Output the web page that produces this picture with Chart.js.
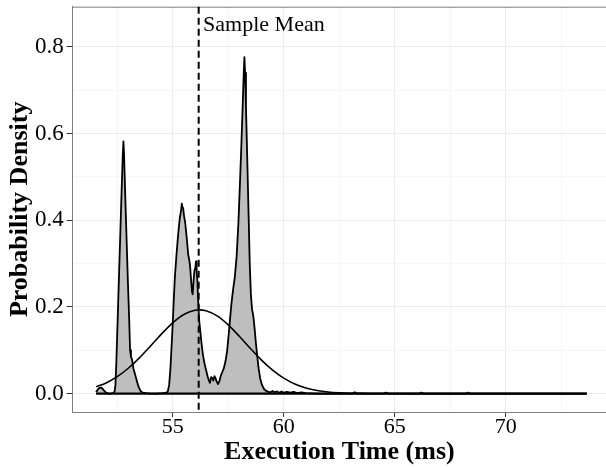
<!DOCTYPE html>
<html><head><meta charset="utf-8">
<script src="https://cdn.jsdelivr.net/npm/chart.js@4"></script>
<style>html,body{margin:0;padding:0;background:#fff;overflow:hidden}#wrap{width:606px;height:468px;position:relative}</style>
</head><body><div id="wrap"><canvas id="c" width="606" height="468"></canvas></div>
<script>
// Kernel density of execution times
const densityX = [51.55,51.62,51.70,51.77,51.84,51.92,52.00,52.10,52.20,52.30,52.38,52.42,52.46,52.52,52.58,52.64,52.70,52.75,52.78,52.81,52.86,52.92,52.98,53.04,53.08,53.12,53.17,53.23,53.30,53.38,53.46,53.55,53.65,53.80,54.00,54.30,54.55,54.70,54.78,54.84,54.90,54.95,55.00,55.05,55.10,55.17,55.25,55.32,55.37,55.41,55.44,55.47,55.51,55.56,55.63,55.70,55.74,55.78,55.83,55.87,55.90,55.94,55.98,56.02,56.05,56.08,56.11,56.15,56.19,56.24,56.30,56.36,56.43,56.50,56.57,56.63,56.68,56.73,56.78,56.83,56.88,56.93,56.98,57.04,57.10,57.16,57.22,57.30,57.38,57.45,57.52,57.58,57.64,57.72,57.80,57.88,57.96,58.03,58.09,58.15,58.20,58.23,58.26,58.30,58.34,58.38,58.42,58.47,58.52,58.57,58.63,58.69,58.75,58.81,58.87,58.94,59.02,59.12,59.25,59.40,59.50,59.58,59.70,59.80,59.90,60.00,60.15,60.30,60.45,60.60,60.80,61.00,61.50,62.00,63.10,63.20,63.30,64.50,64.60,64.70,66.10,66.20,66.30,68.20,68.30,68.40,73.65];
const densityY = [0.003,0.009,0.013,0.014,0.011,0.006,0.002,0.000,0.000,0.001,0.004,0.020,0.070,0.170,0.270,0.370,0.470,0.550,0.582,0.550,0.460,0.360,0.260,0.170,0.100,0.085,0.078,0.058,0.045,0.030,0.016,0.006,0.002,0.001,0.000,0.000,0.001,0.002,0.005,0.020,0.060,0.110,0.160,0.220,0.270,0.320,0.370,0.405,0.420,0.438,0.430,0.428,0.410,0.395,0.360,0.320,0.310,0.296,0.260,0.235,0.229,0.260,0.285,0.290,0.305,0.280,0.262,0.210,0.170,0.145,0.115,0.090,0.070,0.055,0.040,0.030,0.025,0.038,0.036,0.030,0.040,0.035,0.028,0.022,0.028,0.040,0.048,0.058,0.075,0.098,0.135,0.170,0.205,0.240,0.270,0.317,0.394,0.486,0.570,0.660,0.740,0.776,0.740,0.660,0.580,0.495,0.409,0.300,0.230,0.196,0.179,0.150,0.115,0.085,0.058,0.035,0.020,0.010,0.005,0.003,0.006,0.003,0.005,0.002,0.005,0.002,0.004,0.002,0.004,0.001,0.003,0.001,0.000,0.000,0.000,0.003,0.000,0.000,0.002,0.000,0.000,0.002,0.000,0.000,0.002,0.000,0.000];
// Fitted normal curve
const normalX = [51.55,52,52.5,53,53.5,54,54.5,55,55.5,56,56.2,56.5,57,57.5,58,58.5,59,59.5,60,60.5,61,61.5,62,62.5,63,63.5,64,65,66,68,70,72,73.65];
const normalY = [0.0155,0.0246,0.0391,0.0584,0.0824,0.1097,0.1378,0.1632,0.1823,0.1921,0.1930,0.1910,0.1791,0.1585,0.1322,0.1041,0.0773,0.0542,0.0358,0.0223,0.0131,0.0073,0.0038,0.0019,0.0009,0.0004,0.0002,0.00002,0,0,0,0,0];
const sampleMean = 56.17;
const meanLabel = 'Sample Mean';
const xTickLabels = [55,60,65,70];
const xMinorTicks = [52.5,57.5,62.5,67.5,72.5];
const yTickLabels = [0,0.2,0.4,0.6,0.8];
const yMinorTicks = [0.1,0.3,0.5,0.7];
const xTitle = 'Execution Time (ms)';
const yTitle = 'Probability Density';

const FONT = '"Liberation Serif", "Times New Roman", serif';
const isIn = (arr, v) => arr.some(a => Math.abs(a - v) < 1e-6);

const overlay = {
  id: 'overlay',
  afterDatasetsDraw(chart) {
    const {ctx, chartArea: a, scales: {x, y}} = chart;
    ctx.save();
    ctx.strokeStyle = '#7f7f7f'; ctx.lineWidth = 1;
    ctx.beginPath(); ctx.moveTo(a.left, a.top + 0.5); ctx.lineTo(a.right, a.top + 0.5); ctx.stroke();
    const px = x.getPixelForValue(sampleMean);
    ctx.strokeStyle = '#000'; ctx.lineWidth = 2; ctx.setLineDash([7, 4]);
    ctx.beginPath(); ctx.moveTo(px, a.top); ctx.lineTo(px, a.bottom); ctx.stroke();
    ctx.setLineDash([]);
    ctx.fillStyle = '#000'; ctx.font = '22px ' + FONT;
    ctx.textAlign = 'left'; ctx.textBaseline = 'middle';
    ctx.fillText(meanLabel, x.getPixelForValue(sampleMean + 0.2), y.getPixelForValue(0.85));
    ctx.restore();
  }
};

new Chart(document.getElementById('c'), {
  type: 'line',
  data: {
    datasets: [
      {
        data: normalX.map((v, i) => ({x: v, y: normalY[i]})),
        borderColor: '#000', borderWidth: 1.6, fill: false, pointRadius: 0,
        cubicInterpolationMode: 'monotone', order: 1
      },
      {
        data: [{x: densityX[0], y: 0}, {x: densityX[densityX.length - 1], y: 0}],
        borderColor: '#000', borderWidth: 2.2, fill: false, pointRadius: 0, order: 2
      },
      {
        data: densityX.map((v, i) => ({x: v, y: densityY[i]})),
        borderColor: '#000', borderWidth: 1.8, backgroundColor: '#bebebe',
        borderJoinStyle: 'round', fill: 'origin', pointRadius: 0, tension: 0, order: 3
      }
    ]
  },
  options: {
    responsive: false, animation: false, devicePixelRatio: 1,
    layout: {padding: {top: 6.7, left: 0, right: 0, bottom: 0}},
    plugins: {legend: {display: false}, tooltip: {enabled: false}},
    scales: {
      x: {
        type: 'linear', min: 50.495, max: 74.518,
        afterBuildTicks: s => { s.ticks = [...xMinorTicks, ...xTickLabels].sort((a, b) => a - b).map(v => ({value: v})); },
        afterFit: s => { s.height = 56; s.paddingLeft = 0; s.paddingRight = 0; s.paddingTop = 0; s.paddingBottom = 0; },
        grid: {
          color: c => isIn(xTickLabels, c.tick.value) ? '#ebebeb' : '#f6f6f6',
          lineWidth: 1, tickLength: 5, tickWidth: 1,
          tickColor: c => isIn(xTickLabels, c.tick.value) ? '#333' : 'rgba(0,0,0,0)'
        },
        border: {color: '#7f7f7f', width: 1},
        ticks: {
          autoSkip: false, maxRotation: 0, padding: -1, color: '#000',
          font: {family: FONT, size: 22, lineHeight: 1},
          callback: v => isIn(xTickLabels, v) ? String(v) : ''
        },
        title: {display: true, text: xTitle, color: '#000',
          font: {family: FONT, size: 26, weight: 'bold', lineHeight: 1}, padding: {top: 0, bottom: 3}}
      },
      y: {
        type: 'linear', min: -0.0425, max: 0.8925,
        afterBuildTicks: s => { s.ticks = [...yMinorTicks, ...yTickLabels].sort((a, b) => a - b).map(v => ({value: v})); },
        afterFit: s => { s.width = 72.7; s.paddingLeft = 0; s.paddingRight = 0; s.paddingTop = 0; s.paddingBottom = 0; },
        grid: {
          color: c => isIn(yTickLabels, c.tick.value) ? '#ebebeb' : '#f6f6f6',
          lineWidth: 1, tickLength: 6, tickWidth: 1,
          tickColor: c => isIn(yTickLabels, c.tick.value) ? '#333' : 'rgba(0,0,0,0)'
        },
        border: {color: '#7f7f7f', width: 1},
        ticks: {
          autoSkip: false, padding: 3, color: '#000',
          font: {family: FONT, size: 23, lineHeight: 1},
          callback: v => isIn(yTickLabels, v) ? v.toFixed(1) : ''
        },
        title: {display: true, text: yTitle, color: '#000',
          font: {family: FONT, size: 26, weight: 'bold', lineHeight: 1}, padding: {top: 7, bottom: 0}}
      }
    }
  },
  plugins: [overlay]
});
</script></body></html>
